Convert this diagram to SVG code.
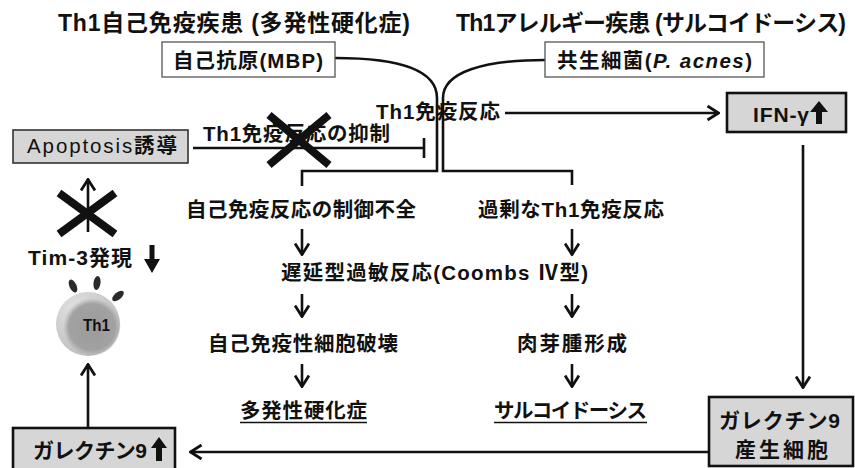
<svg xmlns="http://www.w3.org/2000/svg" width="855" height="468" viewBox="0 0 855 468">
  <style>
    text { font-family: "Liberation Sans", "Noto Sans CJK JP", sans-serif; fill: #111; }
    .title { font-size: 23px; font-weight: 700; }
    .body { font-size: 20.5px; font-weight: 700; }
    .bold { font-size: 21px; font-weight: 700; }
    .line { fill: none; stroke: #111; stroke-width: 2.6; }
    .boxw { fill: #fff; stroke: #555; stroke-width: 1.3; }
    .boxg { fill: #d6d6d6; stroke: #111; stroke-width: 2.6; }
    .boxa { fill: #d6d6d6; stroke: #333; stroke-width: 1.6; }
    .cross { stroke: #111; stroke-width: 8; stroke-linecap: butt; }
    .solid { fill: #111; }
    .spike { fill: #2a2a2a; }
  </style>
  <defs>
    <marker id="v" viewBox="0 0 14 16" refX="13" refY="8" markerWidth="14" markerHeight="16" markerUnits="userSpaceOnUse" orient="auto">
      <path d="M1.5,1 L12.5,8 L1.5,15" fill="none" stroke="#111" stroke-width="2.8"/>
    </marker>
    <radialGradient id="cellOuter" cx="0.35" cy="0.3" r="0.75">
      <stop offset="0" stop-color="#e4e4e4"/>
      <stop offset="1" stop-color="#bcbcbc"/>
    </radialGradient>
    <radialGradient id="cellInner" cx="0.5" cy="0.5" r="0.5">
      <stop offset="0" stop-color="#9a9a9a"/>
      <stop offset="0.8" stop-color="#a2a2a2"/>
      <stop offset="1" stop-color="#a8a8a8" stop-opacity="0"/>
    </radialGradient>
  </defs>

  <!-- headings -->
  <text class="title" x="58" y="31" textLength="352" lengthAdjust="spacing">Th1自己免疫疾患 (多発性硬化症)</text>
  <text class="title" x="456" y="31" textLength="390" lengthAdjust="spacing">Th1アレルギー疾患 (サルコイドーシス)</text>

  <!-- connectors -->
  <g id="connectors">
    <path class="line" d="M335,58 C398,58 437,70 437,98 L437,171 L302,171 L302,186"/>
    <path class="line" d="M545,60 C484,60 443,72 443,98 L443,171 L572,171 L572,185"/>
    <line class="line" x1="505" y1="113" x2="719" y2="113" marker-end="url(#v)"/>
    <line class="line" x1="193" y1="148" x2="424" y2="148"/>
    <line class="line" x1="424" y1="138" x2="424" y2="158"/>
    <line class="line" x1="88" y1="232" x2="88" y2="179" marker-end="url(#v)"/>
    <line class="line" x1="302" y1="229" x2="302" y2="255" marker-end="url(#v)"/>
    <line class="line" x1="572" y1="229" x2="572" y2="255" marker-end="url(#v)"/>
    <line class="line" x1="302" y1="294" x2="302" y2="317" marker-end="url(#v)"/>
    <line class="line" x1="572" y1="294" x2="572" y2="317" marker-end="url(#v)"/>
    <line class="line" x1="302" y1="364" x2="302" y2="387" marker-end="url(#v)"/>
    <line class="line" x1="572" y1="364" x2="572" y2="387" marker-end="url(#v)"/>
    <line class="line" x1="803" y1="145" x2="803" y2="388" marker-end="url(#v)"/>
    <line class="line" x1="709" y1="452" x2="190" y2="452" marker-end="url(#v)"/>
    <line class="line" x1="88" y1="428" x2="88" y2="364" marker-end="url(#v)"/>
    <!-- blocked paths -->
    <line class="cross" x1="269" y1="115" x2="329" y2="165"/>
    <line class="cross" x1="329" y1="115" x2="269" y2="165"/>
    <line class="cross" x1="59" y1="193" x2="115" y2="234"/>
    <line class="cross" x1="115" y1="193" x2="59" y2="234"/>
  </g>

  <g id="node-mbp">
    <rect class="boxw" x="162" y="42" width="173" height="35"/>
    <text class="body" x="173" y="68" textLength="150" lengthAdjust="spacing">自己抗原(MBP)</text>
  </g>

  <g id="node-acnes">
    <rect class="boxw" x="545" y="42" width="219" height="35"/>
    <text class="body" x="557" y="68" textLength="195" lengthAdjust="spacing">共生細菌(<tspan font-style="italic">P. acnes</tspan>)</text>
  </g>

  <g id="node-th1-response">
    <text class="body" x="376" y="119" textLength="124" lengthAdjust="spacing">Th1免疫反応</text>
  </g>

  <g id="node-ifn">
    <rect class="boxg" x="727" y="93" width="119" height="39"/>
    <text class="bold" x="753" y="122" textLength="56" lengthAdjust="spacing">IFN-γ</text>
    <path class="solid" d="M819,101 L828,112 L822,112 L822,124 L816,124 L816,112 L810,112 Z"/>
  </g>

  <g id="node-apoptosis">
    <rect class="boxa" x="13" y="130" width="175" height="33"/>
    <text x="27" y="153" font-size="20.5" textLength="150" lengthAdjust="spacing">Apoptosis<tspan font-weight="700">誘導</tspan></text>
  </g>

  <g id="label-suppress">
    <text class="body" x="203" y="141" textLength="187" lengthAdjust="spacing">Th1免疫反応の抑制</text>
  </g>

  <g id="node-autoimmune-failure">
    <text class="body" x="186" y="217" textLength="230" lengthAdjust="spacing">自己免疫反応の制御不全</text>
  </g>

  <g id="node-excess">
    <text class="body" x="478" y="217" textLength="186" lengthAdjust="spacing">過剰なTh1免疫反応</text>
  </g>

  <g id="node-dth">
    <text class="body" x="281" y="280" textLength="307" lengthAdjust="spacing">遅延型過敏反応(Coombs Ⅳ型)</text>
  </g>

  <g id="node-destruction">
    <text class="body" x="208" y="351" textLength="190" lengthAdjust="spacing">自己免疫性細胞破壊</text>
  </g>

  <g id="node-granuloma">
    <text class="body" x="517" y="351" textLength="110" lengthAdjust="spacing">肉芽腫形成</text>
  </g>

  <g id="node-ms">
    <text class="body" x="240" y="418" textLength="127" lengthAdjust="spacing">多発性硬化症</text>
    <line x1="240" y1="422.5" x2="367" y2="422.5" stroke="#111" stroke-width="1.5"/>
  </g>

  <g id="node-sarcoidosis">
    <text class="body" x="494" y="418" textLength="153" lengthAdjust="spacing">サルコイドーシス</text>
    <line x1="494" y1="422.5" x2="647" y2="422.5" stroke="#111" stroke-width="1.5"/>
  </g>

  <g id="node-tim3">
    <text class="bold" x="28" y="265" textLength="104" lengthAdjust="spacing">Tim-3発現</text>
    <path class="solid" d="M149.5,245 L154.5,245 L154.5,259 L160,259 L152,273 L144,259 L149.5,259 Z"/>
  </g>

  <g id="node-th1-cell">
    <ellipse class="spike" cx="73" cy="286" rx="3.5" ry="7" transform="rotate(-25 73 286)"/>
    <ellipse class="spike" cx="97" cy="283" rx="3.5" ry="7" transform="rotate(8 97 283)"/>
    <ellipse class="spike" cx="118" cy="296" rx="3.5" ry="7" transform="rotate(50 118 296)"/>
    <circle cx="88" cy="324" r="32" fill="url(#cellOuter)"/>
    <circle cx="92" cy="327" r="29" fill="url(#cellInner)"/>
    <text x="83" y="331" font-size="16" font-weight="700" textLength="27" lengthAdjust="spacingAndGlyphs">Th1</text>
  </g>

  <g id="node-galectin-up">
    <rect class="boxg" x="13" y="428" width="162" height="44"/>
    <text class="bold" x="33" y="458" textLength="114" lengthAdjust="spacing">ガレクチン9</text>
    <path class="solid" d="M159,437 L167,448 L162,448 L162,461 L156,461 L156,448 L151,448 Z"/>
  </g>

  <g id="node-galectin-cell">
    <rect class="boxg" x="709" y="397" width="144" height="69"/>
    <text class="bold" x="719" y="428" textLength="121" lengthAdjust="spacing">ガレクチン9</text>
    <text class="bold" x="735" y="457" textLength="93" lengthAdjust="spacing">産生細胞</text>
  </g>
</svg>
